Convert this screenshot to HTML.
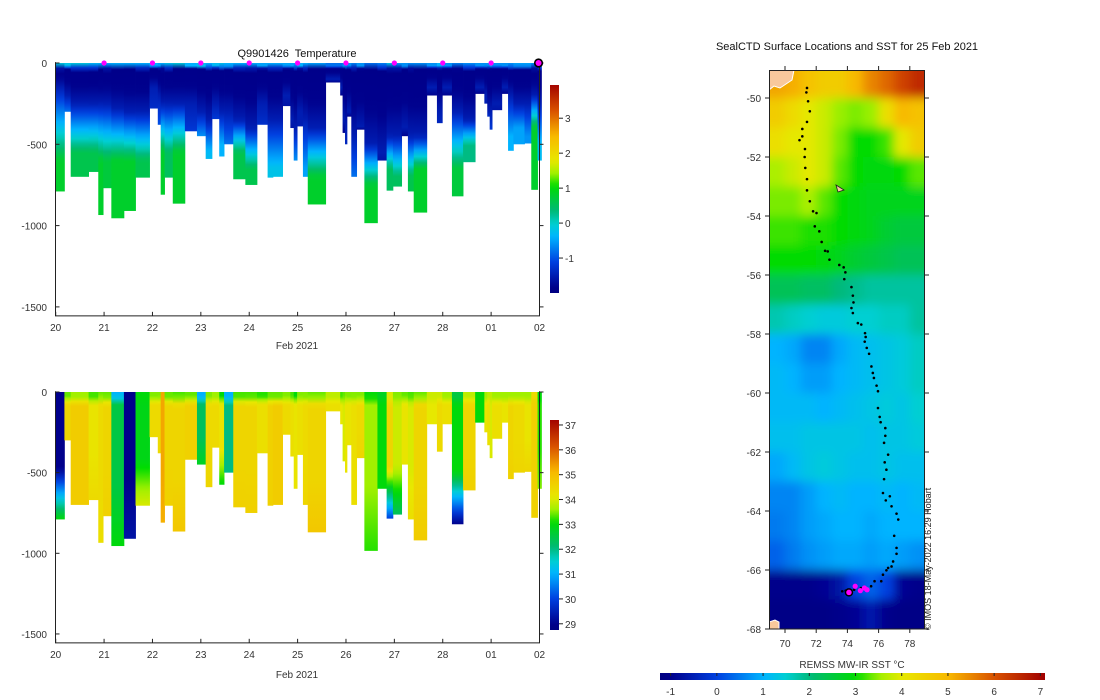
<!DOCTYPE html>
<html><head><meta charset="utf-8">
<style>
html,body{margin:0;padding:0;background:#fff;}
svg{display:block;font-family:"Liberation Sans","DejaVu Sans",sans-serif;}
.tk{font-size:10px;fill:#333;}
.ttl{font-size:11px;fill:#111;white-space:pre;}
</style></head>
<body>
<svg id="fig" width="1100" height="700" viewBox="0 0 1100 700" xmlns="http://www.w3.org/2000/svg">
<defs id="defs"></defs>
<g id="tplot"></g>
<g id="splot"></g>
<g id="map"></g>
<text class="ttl" x="297" y="57" text-anchor="middle" xml:space="preserve">Q9901426  Temperature</text>
<text class="ttl" x="847" y="50" text-anchor="middle">SealCTD Surface Locations and SST for 25 Feb 2021</text>
<text class="tk" x="297" y="349" text-anchor="middle">Feb 2021</text>
<text class="tk" x="297" y="678" text-anchor="middle">Feb 2021</text>
<text class="tk" x="852" y="668" text-anchor="middle">REMSS MW-IR SST °C</text>
<text x="0" y="0" transform="translate(931,630) rotate(-90)" style="font-size:9px;fill:#222">© IMOS 18-May-2022 16:29 Hobart</text>
</svg>
<script>
// ---------- data ----------
const castStart=[0.00,0.18,0.31,0.68,0.88,0.98,1.15,1.41,1.65,1.94,2.11,2.17,2.25,2.42,2.67,2.92,3.10,3.23,3.38,3.48,3.67,3.92,4.16,4.38,4.49,4.69,4.85,4.92,4.99,5.11,5.21,5.58,5.88,5.93,5.98,6.02,6.11,6.22,6.38,6.65,6.84,6.97,7.15,7.28,7.40,7.67,7.88,7.99,8.19,8.42,8.67,8.86,8.92,8.97,9.02,9.22,9.35,9.46,9.69,9.83,9.96,10.04];
const castDepth=[790,300,700,670,935,770,955,910,705,280,380,810,705,865,420,450,590,345,575,500,715,750,380,705,700,265,400,600,390,700,870,120,200,430,500,330,700,410,985,600,785,760,450,790,920,200,370,200,820,610,190,250,330,410,290,190,540,500,495,780,600];
const tSurf=[-0.1,-0.2,-0.1,-0.3,-0.4,-0.4,-0.4,-0.4,-0.4,-0.4,-0.5,-0.4,-0.2,-0.1,-0.4,-0.2,-0.4,-0.3,-0.2,-0.4,-0.4,-0.4,-0.5,-0.4,-0.4,-0.5,-0.5,-0.4,-0.4,-0.4,-0.5,-0.8,-0.8,-0.6,-0.6,-0.6,-0.7,-0.6,-0.8,-0.7,-0.2,-0.5,-0.6,-0.6,-0.6,-0.6,-0.4,-0.6,-0.7,-0.6,-0.6,-0.6,-0.6,-0.5,-0.6,-0.6,-0.6,-0.5,-0.5,-0.6,-0.6];
const tColdDepth=[150,200,250,250,250,250,280,300,300,150,200,250,250,250,250,300,350,250,300,300,350,400,250,350,350,200,350,400,300,350,400,100,150,350,400,300,450,400,500,550,450,450,400,450,450,150,300,150,300,350,150,200,300,300,250,150,200,250,250,200,250];
const tWarmDepth=[600,300,550,550,600,600,600,600,600,300,380,550,550,550,420,450,550,345,500,500,550,650,380,650,650,265,400,600,390,650,700,120,200,430,500,330,700,410,750,600,650,700,450,700,650,200,370,200,650,500,190,250,330,410,290,190,450,400,450,400,500];
const tDeep=[0.8,-0.8,0.6,0.6,0.8,0.7,0.8,0.8,0.6,-1.3,-1.0,0.8,0.5,0.8,-1.2,-0.6,-0.3,-1.2,-0.4,-0.8,0.6,0.6,-1.3,-0.2,-0.2,-1.6,-1.6,-0.6,-1.5,-0.5,0.8,-1.8,-1.8,-1.8,-1.4,-1.8,-0.8,-1.8,0.8,-1.6,0.5,0.5,-1.8,0.6,0.8,-1.8,-1.4,-1.8,0.7,0.3,-1.8,-1.5,-1.3,-1.2,-1.6,-1.8,-0.4,-0.5,-0.6,0.8,-0.3];
const salTop=[29,33.4,33.6,33.3,33.4,33.4,31,29,33,33.5,33.5,35.3,33.4,33.3,33.4,31,33.5,33.6,33,31,33.3,33.3,33.2,33.4,33.4,33.5,33.3,33,33.5,33.5,33.4,33.8,33.3,33.4,33.5,33.5,33.5,33.5,33,32.8,34,33.5,33.4,33.3,33.4,33.9,33.9,33.6,32.5,33.8,33,33.6,33.8,33.8,33.6,33.6,33.6,33.6,33.6,34.4,33];
const salMid=[29,34.5,34.7,34.2,34.4,34.5,32.5,29,32.9,34.4,34.4,35.3,34.5,34.5,34.6,32.3,34.4,34.4,34.2,32,34.5,34.5,34.3,34.6,34.7,34.4,34.3,34.2,34.3,34.4,34.5,34.3,34.1,34.0,34.2,34.2,34.3,34.4,33.6,33,34.5,33.9,34.2,34.0,34.5,34.1,34.4,34.3,33,34.5,33,34.2,34.3,34.0,34.3,34.2,34.5,34.4,34.2,34.6,33.2];
const salBot=[33,34.5,34.7,34.4,34.3,34.6,33,29.3,34,34.4,34.4,35.2,34.6,34.8,34.6,32.8,34.5,34.4,33,32,34.6,34.6,34.3,34.6,34.7,34.4,34.3,34.2,34.3,34.5,34.8,34.3,34.1,34.0,34.2,34.2,34.3,34.5,33.2,33,30,32.3,34.2,34.3,34.7,34.1,34.4,34.3,29,34.6,33,34.2,34.3,34.0,34.3,34.2,34.6,34.5,34.5,34.6,33.5];
const dayTicks=["20","21","22","23","24","25","26","27","28","01","02"];
const depthTicks=[0,-500,-1000,-1500];
const tempCbTicks=[-1,0,1,2,3];
const salCbTicks=[29,30,31,32,33,34,35,36,37];
const sstCbTicks=[-1,0,1,2,3,4,5,6,7];
const lonTicks=[70,72,74,76,78];
const latTicks=[-50,-52,-54,-56,-58,-60,-62,-64,-66,-68];
const sstGrid=[
[5.2,5.1,4.8,4.6,4.6,5.0,5.5,5.8,6.2,6.5],
[4.6,4.3,4.0,3.8,3.5,3.4,3.5,4.2,5.0,4.8],
[4.2,4.0,4.0,3.8,3.4,3.0,3.0,3.2,4.0,4.6],
[3.6,3.8,4.0,3.8,3.3,3.0,2.9,2.9,3.0,3.3],
[3.4,3.4,3.6,3.3,3.0,2.9,2.8,2.8,2.8,2.8],
[3.2,3.2,3.1,3.1,3.0,2.9,2.8,2.6,2.5,2.5],
[3.0,3.0,3.0,2.9,2.8,2.6,2.5,2.4,2.3,2.3],
[2.3,2.3,2.2,2.2,2.0,1.9,1.8,1.8,1.8,1.8],
[1.7,1.6,1.5,1.4,1.4,1.5,1.5,1.6,1.6,1.8],
[1.0,0.9,0.6,0.6,0.9,1.1,1.2,1.3,1.4,1.6],
[1.1,1.0,0.8,0.8,1.0,1.1,1.2,1.3,1.4,1.6],
[1.1,1.1,1.1,1.0,1.1,1.2,1.3,1.4,1.3,1.5],
[1.2,1.2,1.3,1.3,1.3,1.3,1.2,1.3,1.3,1.4],
[0.9,1.1,1.3,1.4,1.3,1.2,1.2,1.3,1.2,1.2],
[0.6,0.6,0.8,1.0,1.1,1.0,1.0,1.1,1.0,1.1],
[0.5,0.6,0.8,0.9,1.0,1.0,0.9,1.0,1.0,1.0],
[0.3,0.5,0.7,0.8,0.9,0.9,0.8,0.9,0.8,0.7],
[-1.0,-1.0,-1.0,-0.9,-0.7,0.0,0.3,0.0,-0.9,-1.0],
[-1.1,-1.1,-1.1,-1.1,-1.0,-0.9,-0.6,-1.0,-1.1,-1.1]];
const trackLon=[71.41,71.37,71.48,71.59,71.41,71.11,71.11,70.93,71.28,71.26,71.30,71.41,71.41,71.59,71.80,72.02,71.91,72.2,72.35,72.57,72.74,72.85,73.48,73.76,73.87,73.8,74.26,74.35,74.39,74.26,74.35,74.67,74.89,75.13,75.17,75.11,75.24,75.39,75.54,75.63,75.70,75.87,75.96,75.96,76.07,76.13,76.43,76.43,76.35,76.61,76.39,76.5,76.35,76.28,76.46,76.72,76.83,77.15,77.26,77.0,77.15,77.15,76.93,76.83,76.61,76.5,76.28,76.17,75.74,75.52,75.26,74.87,74.43,73.89,73.67];
const trackLat=[-49.66,-49.81,-50.11,-50.45,-50.81,-51.05,-51.30,-51.43,-51.73,-52.0,-52.37,-52.75,-53.13,-53.50,-53.84,-53.90,-54.35,-54.52,-54.88,-55.18,-55.20,-55.48,-55.66,-55.74,-55.91,-56.14,-56.41,-56.70,-56.93,-57.12,-57.29,-57.63,-57.68,-57.97,-58.1,-58.26,-58.47,-58.67,-59.10,-59.32,-59.49,-59.75,-59.94,-60.51,-60.81,-60.99,-61.19,-61.45,-61.69,-62.09,-62.35,-62.60,-62.92,-63.39,-63.64,-63.50,-63.84,-64.09,-64.29,-64.84,-65.25,-65.45,-65.71,-65.88,-65.93,-66.01,-66.16,-66.38,-66.38,-66.55,-66.67,-66.61,-66.67,-66.70,-66.72];
const pinkLon=[74.5,74.83,75.09,75.26];
const pinkLat=[-66.55,-66.7,-66.61,-66.67];
const lastLon=[74.1], lastLat=[-66.76];

// ---------- helpers ----------
const NS="http://www.w3.org/2000/svg";
function mk(tag,attrs,parent){const e=document.createElementNS(NS,tag);for(const k in attrs)e.setAttribute(k,attrs[k]);parent.appendChild(e);return e;}
const cmapStops=[[0,[0,0,128]],[0.03,[0,0,140]],[0.148,[0,64,224]],[0.268,[0,180,255]],[0.33,[0,208,208]],[0.39,[0,184,120]],[0.51,[0,220,0]],[0.57,[160,240,0]],[0.63,[232,232,0]],[0.75,[248,184,0]],[0.87,[216,80,0]],[1,[160,0,0]]];
function cmap(f){f=Math.max(0,Math.min(1,f));for(let i=1;i<cmapStops.length;i++){if(f<=cmapStops[i][0]){const a=cmapStops[i-1],b=cmapStops[i];const u=(f-a[0])/(b[0]-a[0]);const c=a[1].map((v,k)=>Math.round(v+(b[1][k]-v)*u));return `rgb(${c[0]},${c[1]},${c[2]})`;}}return "rgb(160,0,0)";}
const tCol=v=>cmap((v+2)/6), sCol=v=>cmap((v-28.75)/8.5), sstCol=v=>cmap((v+1.23)/8.33);
function interp(knots,d){for(let i=1;i<knots.length;i++){if(d<=knots[i][0]){const a=knots[i-1],b=knots[i];const u=b[0]===a[0]?1:(d-a[0])/(b[0]-a[0]);return a[1]+(b[1]-a[1])*u;}}return knots[knots.length-1][1];}
const defs=document.getElementById('defs');
const X=t=>55.7+t*48.38;

// ---------- section plots ----------
function section(gid,y0,pxPerM,isTemp,cbX,cbY0,cbY1,cbMin,cbMax,cbTicks,colFn){
  const g=document.getElementById(gid);
  const Y=d=>y0+d*pxPerM;
  for(let i=0;i<castDepth.length;i++){
    const D=castDepth[i];let knots;
    if(isTemp){const c=Math.max(40,tColdDepth[i]);knots=[[0,tSurf[i]],[18,tSurf[i]],[35,-1.85],[c*0.6,-1.8],[c,-1.5],[Math.max(c+1,tWarmDepth[i]),tDeep[i]],[2000,tDeep[i]]];}
    else{knots=[[0,salTop[i]],[28,salTop[i]],[80,salMid[i]],[Math.max(81,D*0.6),salMid[i]],[D,salBot[i]],[2000,salBot[i]]];}
    const gr=mk('linearGradient',{id:gid+'g'+i,gradientUnits:'userSpaceOnUse',x1:0,x2:0,y1:Y(0),y2:Y(D)},defs);
    for(let k=0;k<=24;k++){const d=D*k/24;mk('stop',{offset:k/24,'stop-color':colFn(interp(knots,d))},gr);}
    const r=mk('rect',{x:X(castStart[i]),y:Y(0),width:X(castStart[i+1])-X(castStart[i])+0.4,height:Y(D)-Y(0),fill:`url(#${gid}g${i})`},g);
    
    
  }
  const yb=Y(1555);
  mk('path',{d:`M55.5 ${Y(-5)} V${yb} H539.5 V${Y(-5)}`,fill:'none',stroke:'#222','stroke-width':1},g);
  dayTicks.forEach((lab,i)=>{const x=X(i);mk('line',{x1:x,x2:x,y1:yb,y2:yb-4,stroke:'#222'},g);
    const t=mk('text',{x:x,y:yb+15,'text-anchor':'middle',class:'tk'},g);t.textContent=lab;
    
    });
  depthTicks.forEach(v=>{const y=Y(-v);mk('line',{x1:55.5,x2:59.5,y1:y,y2:y,stroke:'#222'},g);mk('line',{x1:539.5,x2:543.5,y1:y,y2:y,stroke:'#222'},g);
    const t=mk('text',{x:47,y:y+4,'text-anchor':'end',class:'tk'},g);t.textContent=v;
    
    });
  const cg=mk('linearGradient',{id:gid+'cb',x1:0,x2:0,y1:1,y2:0},defs);
  for(let k=0;k<=40;k++){mk('stop',{offset:k/40,'stop-color':colFn(cbMin+(cbMax-cbMin)*k/40)},cg);}
  const cb=mk('rect',{x:cbX,y:cbY0,width:9,height:cbY1-cbY0,fill:`url(#${gid}cb)`},g);
  
  
  cbTicks.forEach(v=>{const y=cbY1-(v-cbMin)/(cbMax-cbMin)*(cbY1-cbY0);mk('line',{x1:cbX+9,x2:cbX+13,y1:y,y2:y,stroke:'#222'},g);
    const t=mk('text',{x:cbX+15,y:y+4,class:'tk'},g);t.textContent=v;
    
    });
}
section('tplot',63,0.1626,true,550,85,293,-2,3.95,tempCbTicks,tCol);
section('splot',392,0.1613,false,550,420,630,28.75,37.2,salCbTicks,sCol);
(function(){const g=document.getElementById('tplot');
  for(let d=1;d<=9;d++){const c=mk('circle',{cx:X(d),cy:63,r:2.6,fill:'#ff00ff'},g);
    
    }
  const c=mk('circle',{cx:X(9.98),cy:63,r:3.8,fill:'#ff00ff',stroke:'#000','stroke-width':1.6},g);
  
  
})();

// ---------- map ----------
(function(){
  const g=document.getElementById('map');
  const LX=l=>769.4+(l-69)*15.6, LY=la=>98+(-50-la)*29.5;
  const cp=mk('clipPath',{id:'mclip'},defs);
  mk('rect',{x:769,y:70,width:156,height:559},cp);
  const f=mk('filter',{id:'blur',x:'-5%',y:'-5%',width:'110%',height:'110%'},defs);mk('feGaussianBlur',{stdDeviation:5},f);
  const cg=mk('g',{'clip-path':'url(#mclip)'},g);
  const base=mk('g',{},cg), bl=mk('g',{filter:'url(#blur)'},cg);
  sstGrid.forEach((row,i)=>row.forEach((v,j)=>{[base,bl].forEach(p=>{
    const x0=LX(69+j)-(j===0?20:0), x1=LX(70+j)+(j===9?20:0), y0=LY(-49-i)-(i===0?20:0), y1=LY(-50-i)+(i===18?20:0);
    const r=mk('rect',{x:x0,y:y0,width:x1-x0+0.5,height:y1-y0+0.5,fill:sstCol(v)},p);
    
    });}));
  const l1=mk('path',{d:'M769 70 H794 L792 80 L786 84 L780 88 L774 86 L769 90 Z',fill:'#f8c89c',stroke:'#fff','stroke-width':1},cg);
  
  
  const l2=mk('path',{d:'M769 622 L775 620 L779 622 V629 H769 Z',fill:'#f8c89c',stroke:'#fff','stroke-width':1},cg);
  
  
  const l3=mk('path',{d:'M836 185 L844 190 L838 192 Z',fill:'#f8c89c',stroke:'#222','stroke-width':0.8},cg);
  
  
  trackLon.forEach((lo,i)=>{const c=mk('circle',{cx:LX(lo),cy:LY(trackLat[i]),r:1.3,fill:'#000'},cg);
    
    });
  pinkLon.forEach((lo,i)=>{const c=mk('circle',{cx:LX(lo),cy:LY(pinkLat[i]),r:2.6,fill:'#ff00ff'},cg);
    
    });
  lastLon.forEach((lo,i)=>{const c=mk('circle',{cx:LX(lo),cy:LY(lastLat[i]),r:3.5,fill:'#ff00ff',stroke:'#000','stroke-width':1.5},cg);
    
    });
  mk('rect',{x:769.5,y:70.5,width:155,height:558.5,fill:'none',stroke:'#222'},g);
  lonTicks.forEach(v=>{const x=LX(v);mk('line',{x1:x,x2:x,y1:629,y2:633,stroke:'#222'},g);mk('line',{x1:x,x2:x,y1:70,y2:66,stroke:'#222'},g);
    const t=mk('text',{x:x,y:647,'text-anchor':'middle',class:'tk'},g);t.textContent=v;
    
    });
  latTicks.forEach(v=>{const y=LY(v);mk('line',{x1:765,x2:769,y1:y,y2:y,stroke:'#222'},g);mk('line',{x1:925,x2:929,y1:y,y2:y,stroke:'#222'},g);
    const t=mk('text',{x:761,y:y+4,'text-anchor':'end',class:'tk'},g);t.textContent=v;
    
    });
  const hg=mk('linearGradient',{id:'sstcb',x1:0,x2:1,y1:0,y2:0},defs);
  for(let k=0;k<=40;k++){mk('stop',{offset:k/40,'stop-color':sstCol(-1.23+8.33*k/40)},hg);}
  const cb=mk('rect',{x:660,y:673,width:385,height:7,fill:'url(#sstcb)'},g);
  
  
  sstCbTicks.forEach(v=>{const x=660+(v+1.23)/8.33*385;mk('line',{x1:x,x2:x,y1:673,y2:676,stroke:'#222'},g);
    const t=mk('text',{x:x,y:695,'text-anchor':'middle',class:'tk'},g);t.textContent=v;
    
    });
})();
</script>
</body></html>
